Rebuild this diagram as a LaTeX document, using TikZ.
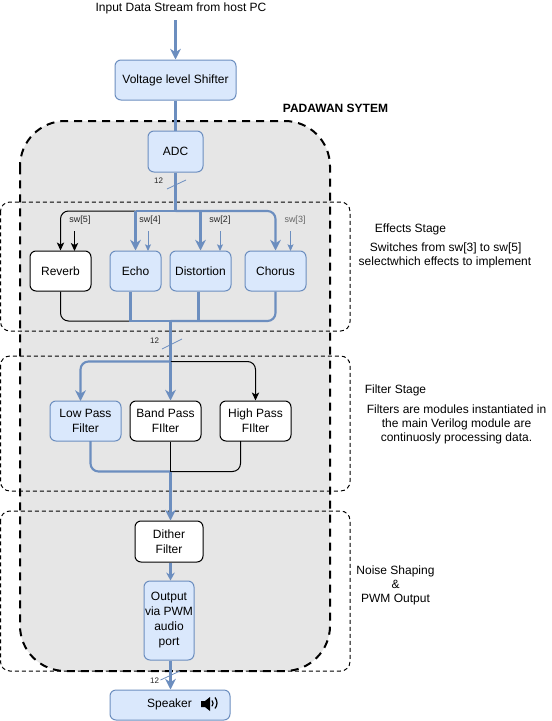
\documentclass[tikz,border=0pt]{standalone}
\usepackage{fontspec}
\setmainfont{Liberation Sans}
\usepackage{tikz}
\usetikzlibrary{arrows.meta}
\definecolor{boxblue}{HTML}{DAE8FC}
\definecolor{lineblue}{HTML}{6C8EBF}
\definecolor{systemgray}{HTML}{E6E6E6}
\tikzstyle{whitebox} = [draw=black, fill=white, rounded corners=4.5pt, line width=0.75pt, inner sep=0pt, align=center, font=\fontsize{9}{11.25}\selectfont]
\tikzstyle{bluebox} = [whitebox, draw=lineblue, fill=boxblue]
\tikzstyle{stage} = [draw, dash pattern=on 3pt off 2.25pt, line width=0.75pt, rounded corners=7pt]
\tikzstyle{txt} = [inner sep=0pt, align=center, font=\fontsize{9}{10.5}\selectfont]
\tikzstyle{small} = [inner sep=0pt, font=\fontsize{6.75}{8}\selectfont, text=black!85]
\tikzstyle{wire} = [line width=0.75pt, rounded corners=6pt]
\tikzstyle{bluewire} = [line width=1.6pt, lineblue, rounded corners=6pt]
\tikzstyle{bighead} = [-{Stealth[length=8pt,width=8pt,inset=2.5pt]}]
\tikzstyle{thinhead} = [-{Stealth[length=5pt,width=4.5pt,inset=1pt]}]
\tikzstyle{blackhead} = [-{Stealth[length=6pt,width=5.5pt,inset=1.5pt]}]
\begin{document}
\begin{tikzpicture}[x=0.75pt,y=-0.75pt]
	\useasboundingbox (0,0) rectangle (551,721);
	\draw[fill=systemgray,line width=1.5pt,rounded corners=34pt,dash pattern=on 6pt off 4.5pt] (20,121) rectangle (330,671);
	\draw[stage] (0.5,202) rectangle (350,331);
	\draw[stage] (0.5,356) rectangle (350,491);
	\draw[stage] (0.5,511) rectangle (350,671);

	\node[txt] (input) at (181,8) {Input Data Stream from host PC};
	\node[txt,font=\fontsize{9}{10.5}\selectfont\bfseries] (system) at (335.5,108) {PADAWAN SYTEM};
	\node[bluebox,minimum width=90.75pt,minimum height=30pt] (shifter) at (175.5,80) {Voltage level Shifter};
	\node[bluebox,minimum width=41.25pt,minimum height=30.75pt] (adc) at (175.5,151.5) {ADC};

	\node[whitebox,minimum width=45.75pt,minimum height=30pt] (reverb) at (60.5,271) {Reverb};
	\node[bluebox,minimum width=38.25pt,minimum height=30pt] (echo) at (135.5,271) {Echo};
	\node[bluebox,minimum width=45.75pt,minimum height=30pt] (distortion) at (200.5,271) {Distortion};
	\node[bluebox,minimum width=45.75pt,minimum height=30pt] (chorus) at (275.5,271) {Chorus};

	\node[bluebox,minimum width=53.25pt,minimum height=30pt] (lowpass) at (85.5,421) {Low Pass\\Filter};
	\node[whitebox,minimum width=53.25pt,minimum height=30pt] (bandpass) at (165.5,421) {Band Pass\\FIlter};
	\node[whitebox,minimum width=53.25pt,minimum height=30pt] (highpass) at (255.5,421) {High Pass\\FIlter};

	\node[whitebox,minimum width=51pt,minimum height=30.75pt] (dither) at (169,541.5) {Dither\\Filter};
	\node[bluebox,minimum width=37.5pt,minimum height=59.25pt] (output) at (169,620.5) {Output\\via PWM\\audio\\port};
	\node[bluebox,minimum width=90pt,minimum height=22.5pt] (speaker) at (170,705) {};
	\node[txt] (speakertxt) at (169.5,704) {Speaker};

	\node[txt] (effects) at (410.5,229) {Effects Stage};
	\node[txt,font=\fontsize{9}{10.5}\selectfont] (switches) at (445,255) {\hspace*{1pt}Switches from sw[3] to sw[5]\\selectwhich effects to implement};
	\node[txt] (filterstage) at (395.5,390) {Filter Stage};
	\node[txt] (filters) at (456.5,424.5) {Filters are modules instantiated in\\the main Verilog module are\\continuosly processing data.};
	\node[txt] (noise) at (395.5,585) {Noise Shaping\\\&\\PWM Output};

	\node[small] (swfive) at (80,220) {sw[5]};
	\node[small] (swfour) at (150,220) {sw[4]};
	\node[small] (swtwo) at (220,220) {sw[2]};
	\node[small,text=black!60] (swthree) at (295,220) {sw[3]};
	\node[small,font=\fontsize{6}{7}\selectfont] (widtha) at (158.5,180.5) {12};
	\node[small,font=\fontsize{6}{7}\selectfont] (widthb) at (154.5,341) {12};
	\node[small,font=\fontsize{6}{7}\selectfont] (widthc) at (154.5,680.5) {12};

	\coordinate (inputend) at (175.5,20);
	\coordinate (topbus) at (175.5,211);
	\coordinate (echobus) at (135.5,211);
	\coordinate (distbus) at (200.5,211);
	\coordinate (effectbus) at (170.5,321);
	\coordinate (echolow) at (130.5,321);
	\coordinate (distlow) at (198.5,321);
	\coordinate (filterbus) at (170.5,361.5);
	\coordinate (filterlow) at (170.5,471.5);
	\coordinate (swfivetop) at (74.5,231);
	\coordinate (swfivebot) at (74.5,251);
	\coordinate (swfourtop) at (148,231);
	\coordinate (swfourbot) at (148,251);
	\coordinate (swtwotop) at (220,231);
	\coordinate (swtwobot) at (220,251);
	\coordinate (swthreetop) at (290.5,231);
	\coordinate (swthreebot) at (290.5,251);

	\draw[bluewire,bighead] (inputend) -- (shifter.north);
	\draw[bluewire] (shifter.south) -- (adc.north);
	\draw[bluewire] (adc.south) -- (topbus);
	\draw[wire,blackhead] (echobus) -| (reverb.north);
	\draw[bluewire,sharp corners] (topbus) -- (echobus);
	\draw[bluewire,bighead] (echobus) -- (echo.north);
	\draw[bluewire,bighead] (distbus) -- (distortion.north);
	\draw[bluewire,bighead] (topbus) -| (chorus.north);
	\draw[blackhead,line width=0.9pt] (swfivetop) -- (swfivebot);
	\draw[thinhead,line width=0.75pt,lineblue] (swfourtop) -- (swfourbot);
	\draw[thinhead,line width=0.75pt,lineblue] (swtwotop) -- (swtwobot);
	\draw[thinhead,line width=0.75pt,lineblue] (swthreetop) -- (swthreebot);

	\draw[wire] (reverb.south) |- (echolow);
	\draw[bluewire,sharp corners] (echolow |- echo.south) -- (echolow) -- (effectbus);
	\draw[bluewire] (distlow |- distortion.south) -- (distlow);
	\draw[bluewire] (chorus.south) |- (effectbus);
	\draw[bluewire] (effectbus) -- (filterbus);

	\draw[wire,blackhead] (filterbus) -| (highpass.north);
	\draw[bluewire,bighead] (filterbus) -| (80.5,401);
	\draw[bluewire,bighead] (filterbus) -- (filterbus |- bandpass.north);
	\draw[bluewire] (90.5,441) |- (filterlow);
	\draw[wire] (filterlow |- bandpass.south) -- (filterlow);
	\draw[wire] (240.5,441) |- (filterlow);
	\draw[bluewire,bighead] (filterlow) -- (filterlow |- dither.north);
	\draw[bluewire,-{Stealth[length=6pt,width=6.5pt,inset=2pt]}] (dither.south -| filterlow) -- (output.north -| filterlow);
	\draw[bluewire,bighead,line width=2pt] (output.south -| filterlow) -- (speaker.north -| filterlow);

	\draw[lineblue,line width=0.6pt] (167,189) -- (186,180);
	\draw[lineblue,line width=0.6pt] (162,349) -- (182,339);
	\draw[lineblue,line width=0.6pt] (160.5,680) -- (180,671);

	\fill (201,701) -- (205,701) -- (210,697) -- (210,711) -- (205,707) -- (201,707) -- cycle;
	\draw[line width=0.9pt] (212,700.5) arc (-40:40:4.5);
	\draw[line width=0.9pt] (215,697.5) arc (-40:40:8.5);
\end{tikzpicture}
\end{document}
